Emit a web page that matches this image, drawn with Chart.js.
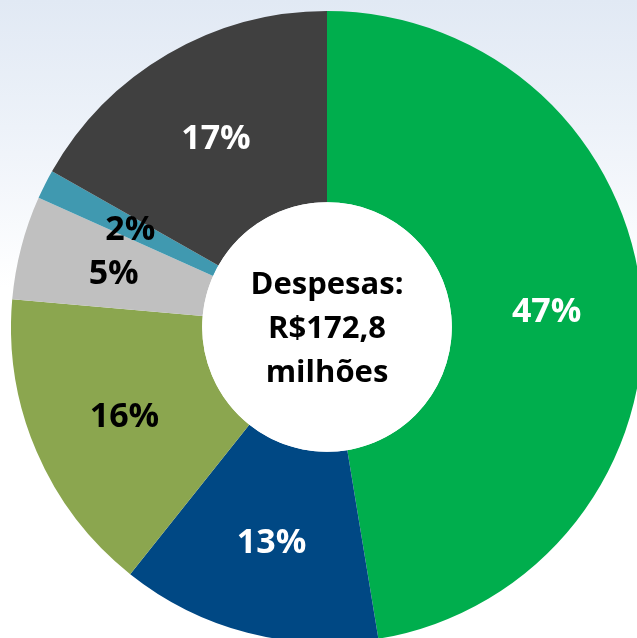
<!DOCTYPE html>
<html>
<head>
<meta charset="utf-8">
<script src="https://cdn.jsdelivr.net/npm/chart.js@4.4.1/dist/chart.umd.min.js"></script>
<style>
    html, body { margin: 0; padding: 0; }
    body {
        width: 637px; height: 638px; overflow: hidden; position: relative;
        background: linear-gradient(to bottom, #e1e9f4 0%, #edf2f9 20%, #ffffff 45%);
    }
    #wrap { position: absolute; left: 11px; top: 11px; width: 632px; height: 632px; }
</style>
</head>
<body>
<div id="wrap"><canvas id="donutChart" width="632" height="632"></canvas></div>
<script>
// slices, clockwise from 12 o'clock
const categories = ['Pessoal', 'Custeio', 'Investimentos', 'Outros', 'Financeiras', 'Transferências'];
const shares = [47.4, 13.3, 15.7, 5.3, 1.5, 16.8];
const colors = ['#00ae4d', '#004884', '#8ba64f', '#c0c0c0', '#4099b0', '#404040'];
const labelColors = ['#ffffff', '#ffffff', '#000000', '#000000', '#000000', '#ffffff'];
const centerLines = ['Despesas:', 'R$172,8', 'milhões'];

const FONT = '"Open Sans", "Noto Sans", sans-serif';

// percent labels in the middle of each ring segment
const sliceLabels = {
    id: 'sliceLabels',
    afterDatasetsDraw(chart) {
        const ctx = chart.ctx;
        const meta = chart.getDatasetMeta(0);
        ctx.save();
        ctx.font = 'bold 34px ' + FONT;
        ctx.textAlign = 'center';
        ctx.textBaseline = 'middle';
        meta.data.forEach((arc, i) => {
            const p = arc.tooltipPosition();
            ctx.fillStyle = labelColors[i];
            ctx.fillText(Math.round(shares[i]) + '%', p.x, p.y + 3);
        });
        ctx.restore();
    }
};

// total in the hole
const centerText = {
    id: 'centerText',
    afterDatasetsDraw(chart) {
        const ctx = chart.ctx;
        const arc = chart.getDatasetMeta(0).data[0];
        ctx.save();
        ctx.beginPath();
        ctx.arc(arc.x, arc.y, arc.innerRadius, 0, Math.PI * 2);
        ctx.fillStyle = '#ffffff';
        ctx.fill();
        ctx.font = 'bold 31px ' + FONT;
        ctx.fillStyle = '#000000';
        ctx.textAlign = 'center';
        ctx.textBaseline = 'middle';
        centerLines.forEach((t, i) => {
            ctx.fillText(t, arc.x, arc.y + 2 + (i - 1) * 44);
        });
        ctx.restore();
    }
};

new Chart(document.getElementById('donutChart').getContext('2d'), {
    type: 'doughnut',
    data: {
        labels: categories,
        datasets: [{
            data: shares,
            backgroundColor: colors,
            borderWidth: 0
        }]
    },
    options: {
        responsive: false,
        animation: false,
        cutout: '39.5%',
        layout: { padding: 0 },
        plugins: {
            legend: { display: false },
            tooltip: { enabled: false }
        }
    },
    plugins: [sliceLabels, centerText]
});
</script>
</body>
</html>
